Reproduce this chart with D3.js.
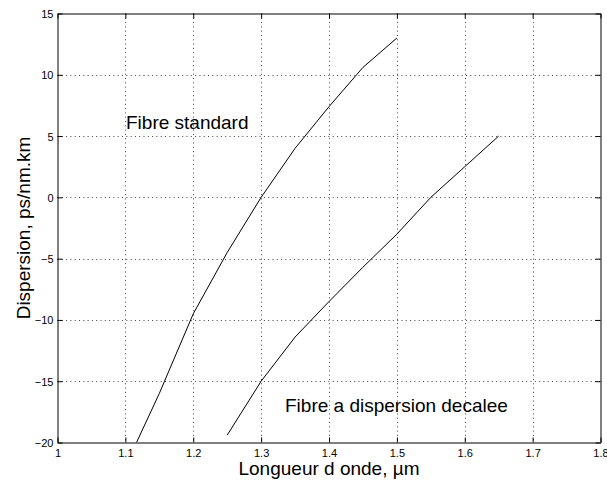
<!DOCTYPE html>
<html>
<head>
<meta charset="utf-8">
<script src="https://cdn.jsdelivr.net/npm/d3@7"></script>
<style>
  html, body { margin: 0; padding: 0; background: #fff; }
  svg { display: block; }
  text { font-family: "Liberation Sans", Arial, Helvetica, sans-serif; fill: #000; }
</style>
</head>
<body>
<svg id="chart" width="607" height="481"></svg>
<script>
// Data
const xTicks = [1, 1.1, 1.2, 1.3, 1.4, 1.5, 1.6, 1.7, 1.8];
const xTickLabels = ["1", "1.1", "1.2", "1.3", "1.4", "1.5", "1.6", "1.7", "1.8"];
const yTicks = [-20, -15, -10, -5, 0, 5, 10, 15];
const yTickLabels = ["\u221220", "\u221215", "\u221210", "\u22125", "0", "5", "10", "15"];

const standardLambda = [1.1164, 1.15, 1.2, 1.25, 1.3, 1.35, 1.4, 1.45, 1.5];
const standardDisp   = [-20, -16, -9.5, -4.5, 0, 4, 7.4, 10.6, 13];

const shiftedLambda = [1.25, 1.3, 1.35, 1.4, 1.45, 1.5, 1.55, 1.6, 1.65];
const shiftedDisp   = [-19.4, -15, -11.4, -8.5, -5.7, -3, 0, 2.5, 5];

const xLabel = "Longueur d onde, \u00b5m";
const yLabel = "Dispersion, ps/nm.km";
const annStandard = "Fibre standard";
const annShifted = "Fibre a dispersion decalee";

// Layout
const L = 57.5, R = 600.5, T = 13.5, B = 442.5;
const svg = d3.select("#chart");
svg.append("rect").attr("width", 607).attr("height", 481).attr("fill", "#fff");

const x = d3.scaleLinear().domain([1, 1.8]).range([L, R]);
const y = d3.scaleLinear().domain([-20, 15]).range([B, T]);

// Grid
const grid = svg.append("g");
grid.selectAll(".gx").data(xTicks.slice(1, -1)).enter().append("line")
  .attr("x1", d => Math.round(x(d)) + 0.5).attr("x2", d => Math.round(x(d)) + 0.5)
  .attr("y1", T).attr("y2", B)
  .attr("stroke", "#444").attr("stroke-width", 1).attr("stroke-dasharray", "1,3.3");
grid.selectAll(".gy").data(yTicks.slice(1, -1)).enter().append("line")
  .attr("y1", d => Math.round(y(d)) + 0.5).attr("y2", d => Math.round(y(d)) + 0.5)
  .attr("x1", L).attr("x2", R)
  .attr("stroke", "#444").attr("stroke-width", 1).attr("stroke-dasharray", "1,3.3");

// Clip
svg.append("clipPath").attr("id", "clip").append("rect")
  .attr("x", L).attr("y", T).attr("width", R - L).attr("height", B - T);

const line = d3.line().x(d => x(d[0])).y(d => y(d[1]));
const s1 = standardLambda.map((l, i) => [l, standardDisp[i]]);
const s2 = shiftedLambda.map((l, i) => [l, shiftedDisp[i]]);
const plot = svg.append("g").attr("clip-path", "url(#clip)");
[s1, s2].forEach(s => {
  plot.append("path").datum(s).attr("d", line)
    .attr("fill", "none").attr("stroke", "#000").attr("stroke-width", 1);
});

// Axes (box with inward ticks on all sides)
const fmtX = (d, i) => xTickLabels[i];
const fmtY = (d, i) => yTickLabels[i];
const axB = svg.append("g").attr("transform", `translate(0,${B})`)
  .call(d3.axisBottom(x).tickValues(xTicks).tickFormat(fmtX).tickSizeInner(-5).tickSizeOuter(0).tickPadding(9));
const axT = svg.append("g").attr("transform", `translate(0,${T})`)
  .call(d3.axisTop(x).tickValues(xTicks).tickFormat("").tickSizeInner(-5).tickSizeOuter(0));
const axL = svg.append("g").attr("transform", `translate(${L},0)`)
  .call(d3.axisLeft(y).tickValues(yTicks).tickFormat(fmtY).tickSizeInner(-5).tickSizeOuter(0).tickPadding(4));
const axR = svg.append("g").attr("transform", `translate(${R},0)`)
  .call(d3.axisRight(y).tickValues(yTicks).tickFormat("").tickSizeInner(-5).tickSizeOuter(0));

[axB, axT, axL, axR].forEach(a => {
  a.select(".domain").attr("stroke", "#000").attr("stroke-width", 1);
  a.selectAll(".tick line").attr("stroke", "#000").attr("stroke-width", 1);
  a.selectAll("text").attr("font-size", 11).attr("font-family", "Liberation Sans, Arial, sans-serif").attr("fill", "#000");
});
axB.selectAll("text").attr("dy", "0.71em").attr("y", 7);
axL.selectAll("text").attr("dy", "0.36em");

// Axis labels
svg.append("text").attr("x", (L + R) / 2).attr("y", 475)
  .attr("text-anchor", "middle").attr("font-size", 19).text(xLabel);
svg.append("text").attr("transform", `translate(30,${(T + B) / 2}) rotate(-90)`)
  .attr("text-anchor", "middle").attr("font-size", 19).text(yLabel);

// Annotations
svg.append("text").attr("x", 126).attr("y", 129).attr("font-size", 19).text(annStandard);
svg.append("text").attr("x", 285).attr("y", 412).attr("font-size", 19).text(annShifted);
</script>
</body>
</html>
